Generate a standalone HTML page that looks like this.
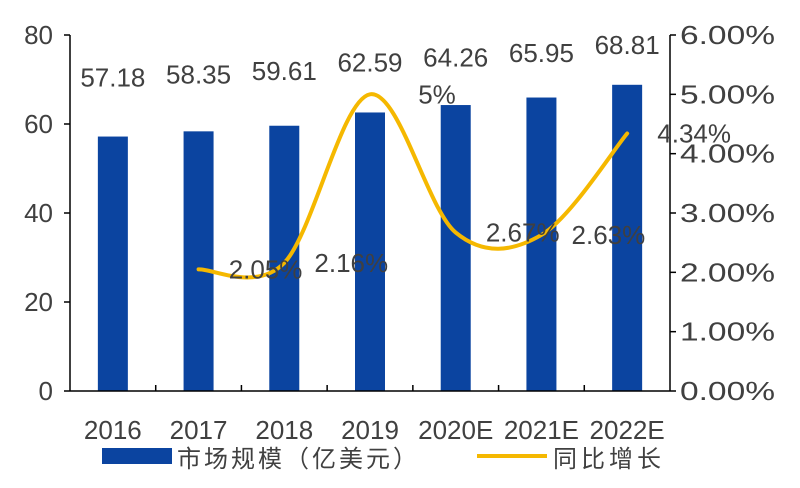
<!DOCTYPE html>
<html><head><meta charset="utf-8"><style>
body{margin:0;background:#fff;width:800px;height:483px;overflow:hidden}
text{font-family:"Liberation Sans","Noto Sans CJK SC",sans-serif;fill:#404040}
</style></head><body>
<svg id="chart" width="800" height="483" xmlns="http://www.w3.org/2000/svg"></svg>
<script>
const categories=["2016","2017","2018","2019","2020E","2021E","2022E"];
const marketSize=[57.18,58.35,59.61,62.59,64.26,65.95,68.81];
const growth=[null,2.05,2.16,5,2.67,2.63,4.34];
const growthLabels=["","2.05%","2.16%","5%","2.67%","2.63%","4.34%"];
const leftTicks=[0,20,40,60,80];
const rightTicks=[0,1,2,3,4,5,6];
const rightTickLabels=["0.00%","1.00%","2.00%","3.00%","4.00%","5.00%","6.00%"];

const svg=document.getElementById('chart');
const NS='http://www.w3.org/2000/svg';
const X0=70,X1=670,Y0=391,Y1=35;
const step=(X1-X0)/categories.length;
const xc=i=>X0+step*(i+0.5);
const yL=v=>Y0-(v/80)*(Y0-Y1);
const yR=v=>Y0-(v/6)*(Y0-Y1);
function mk(tag,attrs,txt){const e=document.createElementNS(NS,tag);for(const k in attrs)e.setAttribute(k,attrs[k]);if(txt!==undefined)e.textContent=txt;svg.appendChild(e);return e;}

marketSize.forEach((v,i)=>{
 const b=mk('rect',{x:xc(i)-15,y:yL(v),width:30,height:Y0-yL(v),fill:'#0B44A0'});
 
 
});
const ax=mk('line',{x1:X0,y1:Y0,x2:X1,y2:Y0,stroke:'#000','stroke-width':1.5});


const la=mk('line',{x1:X0,y1:Y1,x2:X0,y2:Y0,stroke:'#000','stroke-width':1.5});


const ra=mk('line',{x1:X1,y1:Y1,x2:X1,y2:Y0,stroke:'#000','stroke-width':1.5});


for(let i=1;i<categories.length;i++){mk('line',{x1:X0+step*i,y1:Y0,x2:X0+step*i,y2:Y0-6,stroke:'#000','stroke-width':1.5});}
leftTicks.forEach(v=>{
 mk('line',{x1:X0-6,y1:yL(v),x2:X0,y2:yL(v),stroke:'#000','stroke-width':1.5});
 const t=mk('text',{x:53,y:yL(v)+9,'text-anchor':'end','font-size':26},v);
 
 
});
rightTicks.forEach((v,i)=>{
 mk('line',{x1:X1,y1:yR(v),x2:X1+6,y2:yR(v),stroke:'#000','stroke-width':1.5});
 const t=mk('text',{x:680,y:yR(v)+9,'font-size':26,textLength:95,lengthAdjust:'spacingAndGlyphs'},rightTickLabels[i]);
 
 
});
categories.forEach((c,i)=>{
 const t=mk('text',{x:xc(i),y:439,'text-anchor':'middle','font-size':26},c);
 
 
});
const pts=[];growth.forEach((v,i)=>{if(v!==null)pts.push([xc(i),yR(v)]);});
let d='M'+pts[0][0]+','+pts[0][1];
for(let i=0;i<pts.length-1;i++){
 const p0=pts[i-1]||pts[i],p1=pts[i],p2=pts[i+1],p3=pts[i+2]||p2;
 const c1=[p1[0]+(p2[0]-p0[0])/6,p1[1]+(p2[1]-p0[1])/6];
 const c2=[p2[0]-(p3[0]-p1[0])/6,p2[1]-(p3[1]-p1[1])/6];
 d+=` C${c1[0]},${c1[1]} ${c2[0]},${c2[1]} ${p2[0]},${p2[1]}`;
}
const ln=mk('path',{d:d,fill:'none',stroke:'#F5B800','stroke-width':4,'stroke-linecap':'round'});


marketSize.forEach((v,i)=>{
 const cy=0.635*yL(v)-9;
 const t=mk('text',{x:xc(i),y:cy+9,'text-anchor':'middle','font-size':26},v.toFixed(2));
 
 
});
growth.forEach((v,i)=>{
 if(v===null)return;
 const t=mk('text',{x:xc(i)+67,y:yR(v)+9,'text-anchor':'middle','font-size':26},growthLabels[i]);
 
 
});
const lb=mk('rect',{x:102,y:448,width:70,height:16,fill:'#0B44A0'});


const lt=mk('text',{x:177,y:467,'font-size':24,'letter-spacing':3},'市场规模（亿美元）');


const ll=mk('line',{x1:477,y1:456,x2:547,y2:456,stroke:'#F5B800','stroke-width':4});


const lt2=mk('text',{x:553,y:467,'font-size':24,'letter-spacing':4},'同比增长');


</script>
</body></html>
